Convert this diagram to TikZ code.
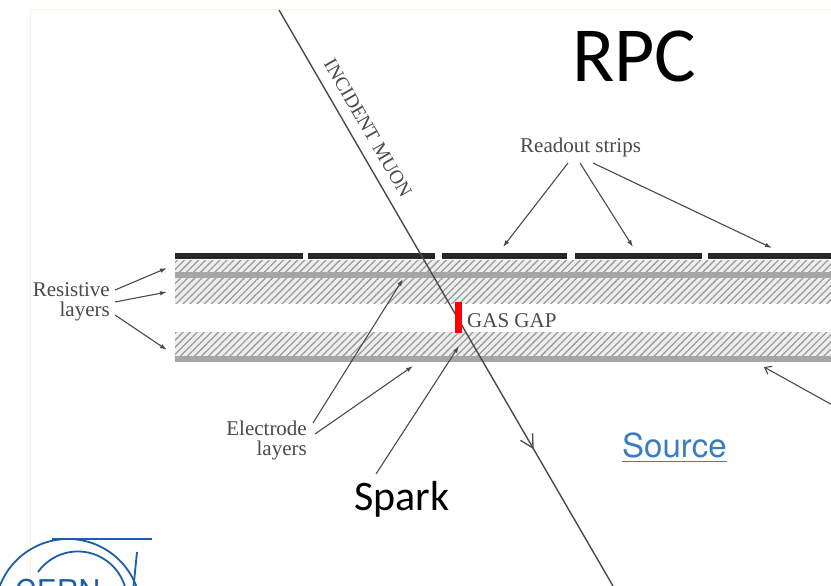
\documentclass[tikz,border=0pt]{standalone}
\usepackage{fontspec}
\setmainfont{Liberation Serif}
\newfontfamily\calibrifont{Carlito}
\newfontfamily\helvfont{TeX Gyre Heros}
\usetikzlibrary{arrows.meta,patterns.meta}

\definecolor{ink}{HTML}{4A4A4A}
\definecolor{cernblue}{HTML}{1B5FAA}
\definecolor{linkblue}{HTML}{3C7DC1}
\definecolor{hatchbg}{HTML}{EEEEEE}
\definecolor{hatchln}{HTML}{9C9C9C}
\definecolor{bandgray}{HTML}{A6A6A6}
\definecolor{edgecream}{HTML}{F8F5E6}

\tikzset{
  lbl/.style={font=\fontsize{21}{20}\selectfont, text=ink, inner sep=0pt},
  lead/.style={draw=ink, line width=1.1pt, -{Latex[length=7pt,width=4.5pt]}},
  barb/.style={draw=ink, line width=1.1pt, -{Straight Barb[length=6pt,width=9pt]}},
  hatchfill/.style={fill=hatchbg},
  hatchlines/.style={pattern={Lines[angle=45,distance=5pt,line width=1.3pt]}, pattern color=hatchln},
  band/.style={fill=bandgray},
  stripbar/.style={fill=black!85},
  logo/.style={draw=cernblue, line width=1.8pt},
  muon/.style={draw=ink, line width=1.4pt},
  vhead/.style={draw=ink, line width=1.3pt, line join=miter},
}

\begin{document}
\begin{tikzpicture}[x=1pt,y=-1pt]
  \useasboundingbox (0,0) rectangle (831,586);
  \clip (0,0) rectangle (831,586);
  \fill[white] (0,0) rectangle (831,586);

  % faint edge of the embedded figure
  \draw[edgecream, line width=1pt] (30,586) -- (30,10) -- (831,10);

  % ---- chamber layers ----
  % upper plate: thin hatched, graphite band, thick hatched
  \path[hatchfill]  (175,260) rectangle (840,272);
  \path[hatchlines] (175,260) rectangle (840,272);
  \path[band]       (175,272) rectangle (840,278);
  \path[hatchfill]  (175,278) rectangle (840,303);
  \path[hatchlines] (175,278) rectangle (840,303);
  % lower plate
  \path[hatchfill]  (175,332) rectangle (840,356);
  \path[hatchlines] (175,332) rectangle (840,356);
  \path[band]       (175,356) rectangle (840,362);

  % readout strips
  \foreach \xa/\xb in {175/303, 308/435, 442/567, 575/702, 708/840}
    \path[stripbar] (\xa,253) rectangle (\xb,259);

  % ---- incident muon ----
  \coordinate (muonA) at (279,10);
  \coordinate (muonB) at (613,586);
  \draw[muon] (muonA) -- (muonB);
  % open arrowhead on the track
  \coordinate (muonTip) at (533,448);
  \coordinate (barbL) at (532.6,433.3);
  \coordinate (barbR) at (520.4,440.3);
  \draw[vhead] (barbL) -- (muonTip) -- (barbR);
  \node[font=\fontsize{19.5}{20}\selectfont, text=ink, inner sep=0pt, rotate=-59.9]
    (muonlbl) at (368,128) {INCIDENT MUON};

  % spark in the gas gap
  \path[fill=red] (455,302) rectangle (462,333);
  \node[lbl, anchor=base west] (gasgap) at (467,327) {GAS GAP};

  % ---- labels ----
  \node[font=\calibrifont\fontsize{78}{78}\selectfont, anchor=base west, inner sep=0pt]
    (title) at (572,82) {RPC};
  \node[lbl, anchor=base west] (readout) at (520,153) {Readout strips};
  \node[lbl, anchor=north east, align=right] (resist) at (110,282) {Resistive\\layers};
  \node[lbl, anchor=north east, align=right] (electrode) at (307,421) {Electrode\\layers};
  \node[font=\calibrifont\fontsize{42}{42}\selectfont, anchor=base west, inner sep=0pt]
    (spark) at (354,510) {Spark};
  \node[font=\helvfont\fontsize{33}{33}\selectfont, text=linkblue, anchor=base west, inner sep=0pt]
    (source) at (622,457) {Source};
  \draw[linkblue, line width=1.3pt]
    ([yshift=-4.5pt]source.base west) -- ([yshift=-4.5pt]source.base east);

  % ---- leader arrows ----
  \coordinate (rsA) at (115,290);  \coordinate (rsAt) at (167,268);
  \coordinate (rsB) at (115,302);  \coordinate (rsBt) at (167,292);
  \coordinate (rsC) at (115,315);  \coordinate (rsCt) at (167,350);
  \draw[lead] (rsA) -- (rsAt);
  \draw[lead] (rsB) -- (rsBt);
  \draw[lead] (rsC) -- (rsCt);

  \coordinate (roA) at (568,163);  \coordinate (roAt) at (503,247);
  \coordinate (roB) at (580,163);  \coordinate (roBt) at (633,247);
  \coordinate (roC) at (593,163);  \coordinate (roCt) at (772,248);
  \draw[lead] (roA) -- (roAt);
  \draw[lead] (roB) -- (roBt);
  \draw[lead] (roC) -- (roCt);

  \coordinate (elA) at (313,423);  \coordinate (elAt) at (403,279);
  \coordinate (elB) at (315,434);  \coordinate (elBt) at (413,366);
  \draw[lead] (elA) -- (elAt);
  \draw[lead] (elB) -- (elBt);

  \coordinate (spA) at (376,474);  \coordinate (spAt) at (459,346);
  \draw[lead] (spA) -- (spAt);

  \coordinate (rtA) at (845,412);  \coordinate (rtAt) at (764,367);
  \draw[barb] (rtA) -- (rtAt);

  % ---- CERN logo ----
  \draw[logo] (68,612) circle[radius=73];
  \draw[logo] (38,572) arc[start angle=-144.5, end angle=10, radius=49];
  \draw[logo] (52,539) -- (152,539);
  \draw[logo] (137,552) -- (133,592);
  \node[font=\helvfont\fontsize{30}{30}\selectfont, text=cernblue, anchor=base west, inner sep=0pt]
    (cern) at (15,601) {CERN};
\end{tikzpicture}
\end{document}
